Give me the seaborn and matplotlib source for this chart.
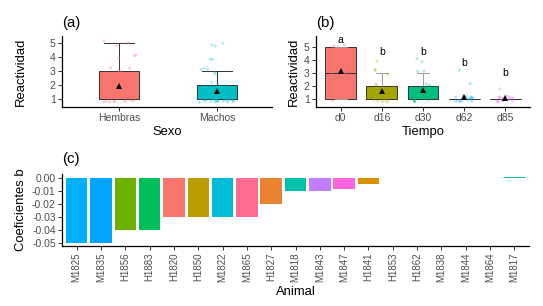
import numpy as np
import pandas as pd
import matplotlib
matplotlib.use('Agg')
import matplotlib.pyplot as plt
import seaborn as sns

# =============================================================================
# DATOS
# =============================================================================
animales = ['M1825', 'M1835', 'H1856', 'H1883', 'H1820', 'H1850', 'M1822',
            'M1865', 'H1827', 'M1818', 'M1843', 'M1847', 'H1841', 'H1853',
            'H1862', 'M1838', 'M1844', 'M1864', 'M1817']

coeficientes = [-0.05, -0.05, -0.04, -0.04, -0.03, -0.03, -0.03, -0.03, -0.02,
                -0.01, -0.01, -0.0085, -0.0047, 0.0, 0.0, 0.0, 0.0, 0.0, 0.001]

# reactividad de cada animal (mismo orden que 'animales') en cada tiempo
d0 = [5, 5, 5, 5, 5, 5, 5, 4, 4, 3, 2, 1, 3, 3, 1, 1, 1, 1, 1]
d16 = [3, 2, 3, 4, 1, 3, 2, 1, 2, 1, 1, 1, 1, 1, 1, 1, 1, 1, 1]
d30 = [3, 4, 1, 2, 4, 2, 2, 3, 1, 1, 1, 1, 1, 1, 1, 1, 1, 1, 1]
d62 = [1, 1, 1, 1, 1, 1, 1, 3, 1, 2, 1, 1, 1, 1, 1, 1, 1, 1, 1]
d85 = [1, 1, 1, 1, 1, 1, 1, 1, 1, 1, 1, 1, 1, 2, 1, 1, 1, 1, 1]

tiempos = ['d0', 'd16', 'd30', 'd62', 'd85']
sexos = ['Hembras', 'Machos']
letras = ['a', 'b', 'b', 'b', 'b']
altura_letras = [5.5, 4.6, 4.6, 3.75, 3.0]

colores_sexo = {'Hembras': '#F8766D', 'Machos': '#00BFC4'}
colores_tiempo = {'d0': '#F8766D', 'd16': '#A3A500', 'd30': '#00BF7D',
                  'd62': '#00B0F6', 'd85': '#E76BF3'}
colores_animal = {
    'H1820': '#F8766D', 'H1827': '#EA8331', 'H1841': '#D89000',
    'H1850': '#BB9D00', 'H1853': '#A3A500', 'H1856': '#6BB100',
    'H1862': '#00BA38', 'H1883': '#00BF5A', 'M1817': '#00C08B',
    'M1818': '#00C1AA', 'M1822': '#00BCD8', 'M1825': '#00B0F6',
    'M1835': '#00A5FF', 'M1838': '#619CFF', 'M1843': '#C17FFF',
    'M1844': '#E76BF3', 'M1847': '#FF62E0', 'M1864': '#FF61C3',
    'M1865': '#FF6C91'
}

df = pd.DataFrame({'Animal': animales * 5,
                   'Tiempo': np.repeat(tiempos, len(animales)),
                   'Reactividad': d0 + d16 + d30 + d62 + d85})
df['Sexo'] = np.where(df['Animal'].str.startswith('H'), 'Hembras', 'Machos')

# jitter vertical solo para dibujar los puntos
np.random.seed(7)
rng = np.random.default_rng(3)
df['y_jit'] = df['Reactividad'] + rng.uniform(-0.25, 0.25, len(df))

coef_df = pd.DataFrame({'Animal': animales, 'coef': coeficientes})

# =============================================================================
# FIGURA
# =============================================================================
plt.rcParams['font.family'] = ['Liberation Sans', 'DejaVu Sans']
plt.rcParams['axes.unicode_minus'] = False

fig = plt.figure(figsize=(5.43, 3.06), dpi=100)
W, H = 543, 306
T_TIT = 9.4
T_TICK = 7.5


def ejes(x0, y0, x1, y1):
    return fig.add_axes([x0 / W, 1 - y1 / H, (x1 - x0) / W, (y1 - y0) / H])


def estilo(ax):
    sns.despine(ax=ax)
    for s in ['left', 'bottom']:
        ax.spines[s].set_linewidth(0.9)
        ax.spines[s].set_color('black')
    ax.tick_params(length=3, width=0.7, color='#333333', labelsize=T_TICK,
                   labelcolor='#4D4D4D', pad=1.5)


def caja_kws(color_bigote):
    return dict(showfliers=False, linewidth=0.7, linecolor='#333333',
                saturation=1, capwidths=0.3,
                whiskerprops=dict(color=color_bigote),
                capprops=dict(color=color_bigote))


media_kws = dict(errorbar=None, markers='^', linestyles='none', color='black',
                 markersize=4, markeredgewidth=0, zorder=4)

# ---------------- (a) ----------------
ax1 = ejes(62, 36, 272, 107)
sns.boxplot(data=df, x='Sexo', y='Reactividad', hue='Sexo', order=sexos,
            palette=colores_sexo, width=0.4, legend=False, ax=ax1,
            **caja_kws('#333333'))
sns.stripplot(data=df, x='Sexo', y='y_jit', hue='Sexo', order=sexos,
              palette=colores_sexo, jitter=0.18, size=2.2, alpha=0.3,
              legend=False, ax=ax1, zorder=3)
sns.pointplot(data=df, x='Sexo', y='Reactividad', order=sexos, ax=ax1,
              **media_kws)
ax1.set_xlim(-0.58, 1.56)
ax1.set_ylim(0.43, 5.5)
ax1.set_yticks([1, 2, 3, 4, 5])
ax1.set_xlabel('Sexo', fontsize=T_TIT)
ax1.set_ylabel('Reactividad', fontsize=T_TIT)
ax1.yaxis.set_label_coords(-0.167, 0.5)
ax1.xaxis.set_label_coords(0.5, -0.265)
estilo(ax1)
fig.text(62 / W, 1 - 23 / H, '(a)', fontsize=10.8, va='center', ha='left')

# ---------------- (b) ----------------
ax2 = ejes(316, 36, 530, 107)
sns.boxplot(data=df, x='Tiempo', y='Reactividad', hue='Tiempo', order=tiempos,
            palette=colores_tiempo, width=0.75, legend=False, ax=ax2,
            **caja_kws('#A0A0A0'))
sns.stripplot(data=df, x='Tiempo', y='y_jit', hue='Tiempo', order=tiempos,
              palette=colores_tiempo, jitter=0.22, size=2.2, alpha=0.3,
              legend=False, ax=ax2, zorder=3)
sns.pointplot(data=df, x='Tiempo', y='Reactividad', order=tiempos, ax=ax2,
              **media_kws)
for i, (l, h) in enumerate(zip(letras, altura_letras)):
    ax2.text(i, h, l, ha='center', va='center', fontsize=7.5)
ax2.set_xlim(-0.6, 4.6)
ax2.set_ylim(0.39, 5.82)
ax2.set_yticks([1, 2, 3, 4, 5])
ax2.set_xlabel('Tiempo', fontsize=T_TIT)
ax2.set_ylabel('Reactividad', fontsize=T_TIT)
ax2.yaxis.set_label_coords(-0.075, 0.5)
ax2.xaxis.set_label_coords(0.5, -0.265)
estilo(ax2)
fig.text(316 / W, 1 - 23 / H, '(b)', fontsize=10.8, va='center', ha='left')

# ---------------- (c) ----------------
ax3 = ejes(62, 174, 529, 246)
sns.barplot(data=coef_df, x='Animal', y='coef', hue='Animal', order=animales,
            palette=colores_animal, width=0.88, saturation=1, legend=False,
            errorbar=None, linewidth=0, ax=ax3)
ax3.set_xlim(-0.6, len(animales) - 0.4)
ax3.set_ylim(-0.0523, 0.0031)
ticks_c = [0.0, -0.01, -0.02, -0.03, -0.04, -0.05]
ax3.set_yticks(ticks_c)
ax3.set_yticklabels([f'{abs(v):.2f}' if v == 0 else f'{v:.2f}' for v in ticks_c])
estilo(ax3)
ax3.tick_params(axis='x', rotation=90, labelsize=7)
ax3.set_xlabel('Animal', fontsize=T_TIT)
ax3.set_ylabel('Coeficientes b', fontsize=T_TIT)
ax3.yaxis.set_label_coords(-0.075, 0.5)
ax3.xaxis.set_label_coords(0.5, -0.56)
fig.text(62 / W, 1 - 159 / H, '(c)', fontsize=10.8, va='center', ha='left')

fig.savefig('out.png', dpi=100)
